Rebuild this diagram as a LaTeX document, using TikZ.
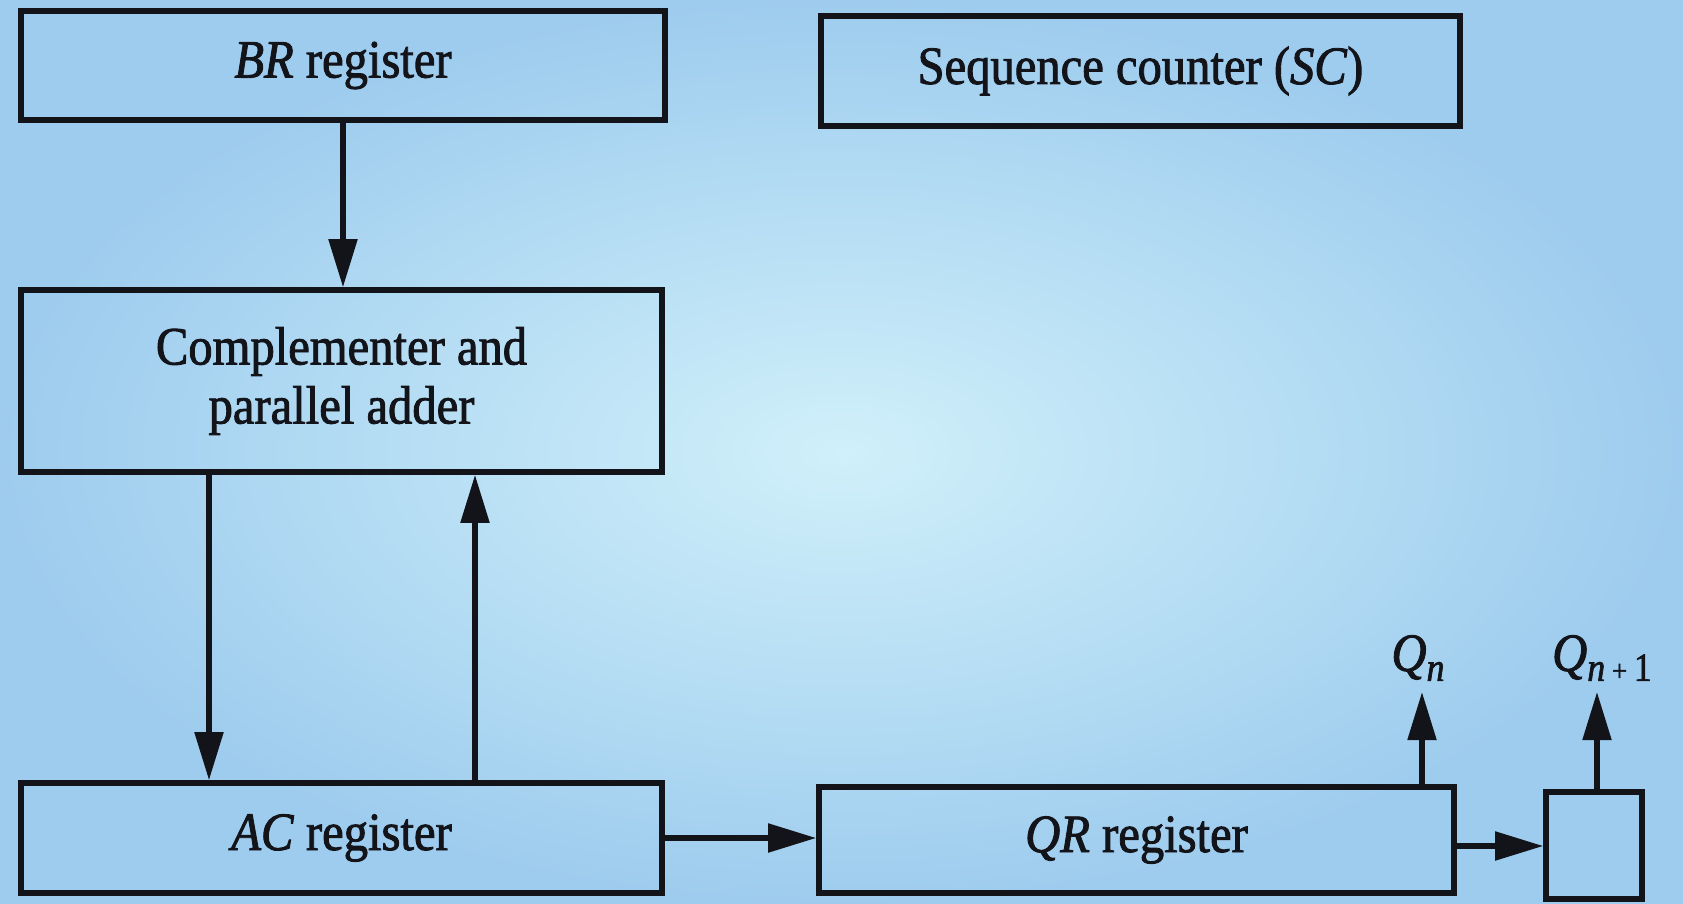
\documentclass[tikz,border=0pt]{standalone}
\usepackage{fontspec}
\setmainfont{Liberation Serif}[FakeStretch=0.9,FakeBold=1.6]
\usetikzlibrary{arrows.meta}
\definecolor{bgin}{RGB}{208,240,250}
\definecolor{bgout}{RGB}{158,204,238}
\definecolor{ink}{RGB}{18,20,26}
\newcommand{\subl}[1]{\raisebox{-0.4ex}{\fontsize{20}{20}\selectfont #1}}
\begin{document}
\begin{tikzpicture}[x=0.5pt,y=-0.5pt,
  box/.style={draw=ink,line width=2.8pt,inner sep=0pt,text=ink,
    font=\fontsize{27}{29.5}\selectfont},
  arr/.style={draw=ink,line width=2.6pt,-{Triangle[length=24pt,width=14pt]}},
  lab/.style={font=\fontsize{27}{29.5}\selectfont,text=ink,inner sep=0pt}]
\shade[inner color=bgin,outer color=bgout] (0,0) rectangle (1683,904);
\useasboundingbox (0,0) rectangle (1683,904);

\node[box,minimum width=322pt,minimum height=54.5pt] (br) at (343,65.5) {\textit{BR} register};
\node[box,minimum width=319.5pt,minimum height=55pt] (sc) at (1140.5,71) {Sequence counter (\textit{SC})};
\node[box,minimum width=320.5pt,minimum height=91pt,align=center] (cpa) at (341.5,381) {Complementer and\\parallel adder};
\node[box,minimum width=320.5pt,minimum height=55pt] (ac) at (341.5,838) {\textit{AC} register};
\node[box,minimum width=317.5pt,minimum height=53pt] (qr) at (1136.5,840) {\textit{QR} register};
\node[box,minimum width=48pt,minimum height=53.5pt] (qb) at (1594,845.5) {};

\coordinate (x1) at (209,0);
\coordinate (x2) at (475,0);
\coordinate (y2) at (0,846);
\coordinate (qn) at (1422,692);
\coordinate (qn1) at (1597,692);

\draw[arr] (br.south) -- (br.south |- cpa.north);
\draw[arr] (cpa.south -| x1) -- (ac.north -| x1);
\draw[arr] (ac.north -| x2) -- (cpa.south -| x2);
\draw[arr] (ac.east) -- (ac.east -| qr.west);
\draw[arr] (qr.east |- y2) -- (qb.west |- y2);
\draw[arr] (qr.north -| qn) -- (qn);
\draw[arr] (qb.north -| qn1) -- (qn1);

\node[lab] (qnl) at (1418,658) {\textit{Q}\subl{\textit{n}}};
\node[lab] (qn1l) at (1602,658) {\textit{Q}\subl{\textit{n}\,{\fontsize{15}{15}\selectfont+}\,1}};
\end{tikzpicture}
\end{document}
